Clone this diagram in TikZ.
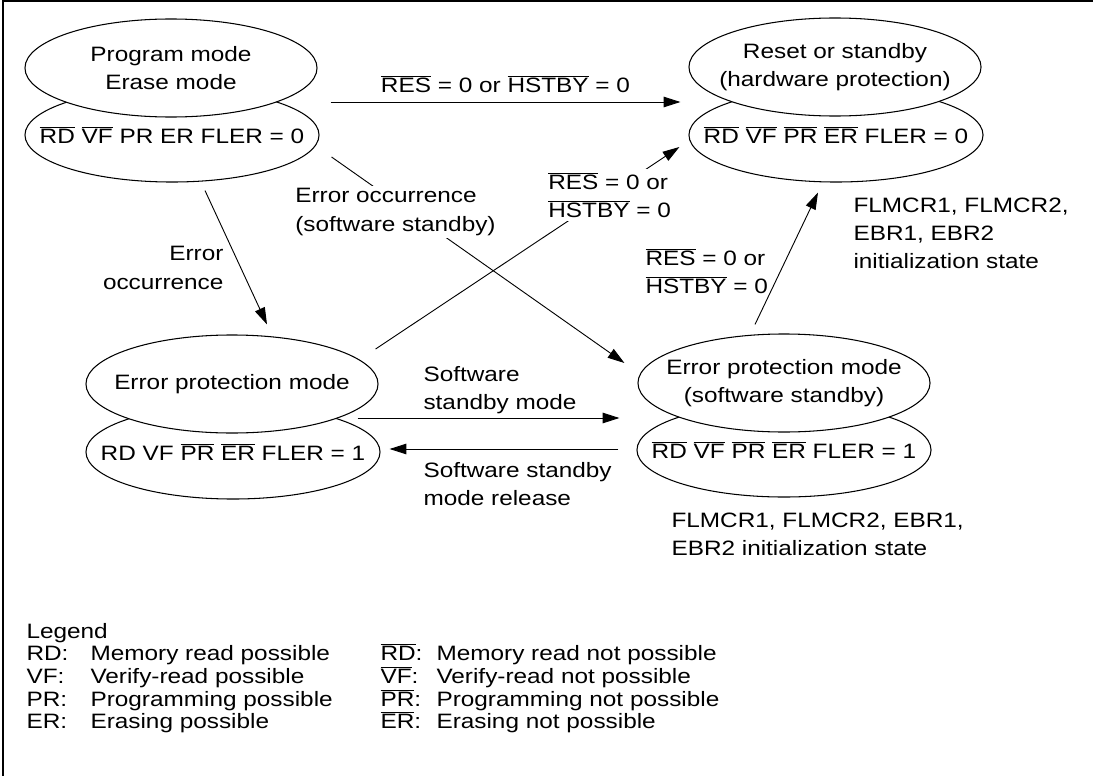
\documentclass[tikz,border=0pt]{standalone}
\usepackage{fontspec}
\setmainfont[FakeStretch=1.17]{Liberation Sans}
\usetikzlibrary{shapes.geometric, arrows.meta, positioning, calc}
\newcommand{\ovl}[1]{$\overline{\hbox{#1}}$}
\tikzset{
    state_up/.style={ellipse, draw, fill=white, inner sep=0pt, minimum width=7.3cm, minimum height=2.45cm},
    state_low/.style={ellipse, draw, fill=white, inner sep=0pt, minimum width=7.35cm, minimum height=2.35cm},
    txt/.style={align=center, inner sep=0pt},
    note/.style={align=left, anchor=west, inner sep=0pt},
    cut/.style={align=left, anchor=west, fill=white, inner sep=2pt},
    arrow/.style={-{Triangle[length=12pt, width=7.5pt]}, line width=0.65pt}
}
\begin{document}
\begin{tikzpicture}[x=0.025cm, y=-0.025cm, line width=0.75pt, font=\fontsize{14.8}{20}\selectfont]
            \useasboundingbox (0,0) rectangle (1093,776);
            \draw (3,776) -- (3,1) -- (1093,1);

            % States
            \node (progdn) [state_low] at (172,135) {};
            \node (progup) [state_up] at (171,68) {};
            \node [txt] at (progup) {Program mode\\Erase mode};
            \node [txt] at (progdn) {\ovl{RD} \ovl{VF} PR ER FLER = 0};

            \node (resetdn) [state_low] at (836,135) {};
            \node (resetup) [state_up] at (835,67) {};
            \node [txt] at (resetup) {Reset or standby\\(hardware protection)};
            \node [txt] at (resetdn) {\ovl{RD} \ovl{VF} \ovl{PR} \ovl{ER} FLER = 0};

            \node (errdn) [state_low] at (233,452) {};
            \node (errup) [state_up] at (232,384) {};
            \node [txt] at (errup) {Error protection mode};
            \node [txt] at (errdn) {RD VF \ovl{PR} \ovl{ER} FLER = 1};

            \node (swdn) [state_low] at (784,450) {};
            \node (swup) [state_up] at (784,383) {};
            \node [txt] at (swup) {Error protection mode\\(software standby)};
            \node [txt] at (swdn) {\ovl{RD} \ovl{VF} \ovl{PR} \ovl{ER} FLER = 1};

            % Transitions
            \draw [arrow] ($(progup.east)+(13,34)$) -- node[above=3pt]{\ovl{RES} = 0 or \ovl{HSTBY} = 0} ($(resetup.west)+(-8,35)$);

            \draw [arrow] ($(progdn.east)+(12,22)$) -- ($(swup.west)+(-13,-20)$);
            \node (occsw) [cut] at (292,212) {Error occurrence\\(software standby)};

            \draw [arrow] ($(errup.east)+(-3,-35)$) -- ($(resetdn.west)+(-9,12)$);
            \node (reserr) [cut] at (545,195) {\ovl{RES} = 0 or\\\ovl{HSTBY} = 0};

            \draw [arrow] ($(progdn.south)+(33,8)$) -- ($(errup.north)+(35,-10)$);
            \node (occ) [align=right, anchor=east, inner sep=0pt] at (224,268) {Error\\occurrence};

            \draw [arrow] ($(swup.north)+(-29,-9)$) -- ($(resetdn.south)+(-18,10)$);
            \node (ressw) [note] at (645,271) {\ovl{RES} = 0 or\\\ovl{HSTBY} = 0};

            \draw [arrow] ($(errup.east)+(-21,34)$) -- ($(swup.west)+(-18,35)$);
            \node (swin) [note] at (423,390) {Software\\standby mode};
            \draw [arrow] ($(swdn.west)+(-18,-1)$) -- ($(errdn.east)+(9,-3)$);
            \node (swout) [note] at (423,484) {Software standby\\mode release};

            % Register notes
            \node (inithw) [note] at (853,233) {FLMCR1, FLMCR2,\\EBR1, EBR2\\initialization state};
            \node (initsw) [note] at (671,534) {FLMCR1, FLMCR2, EBR1,\\EBR2 initialization state};

            % Legend
            \node (legend) [inner sep=0pt, anchor=base west] at (26,638) {Legend};
            \foreach \sig/\what [count=\i] in {RD/Memory read, VF/Verify-read, PR/Programming, ER/Erasing} {
                \node (possig\i) [inner sep=0pt, anchor=base west] at (26,{638+22.7*\i}) {\sig:};
                \node (pos\i) [inner sep=0pt, anchor=base west] at (90,{638+22.7*\i}) {\what{} possible};
                \node (negsig\i) [inner sep=0pt, anchor=base west] at (380,{638+22.7*\i}) {\ovl{\sig}:};
                \node (neg\i) [inner sep=0pt, anchor=base west] at (436,{638+22.7*\i}) {\what{} not possible};
            }
\end{tikzpicture}
\end{document}
